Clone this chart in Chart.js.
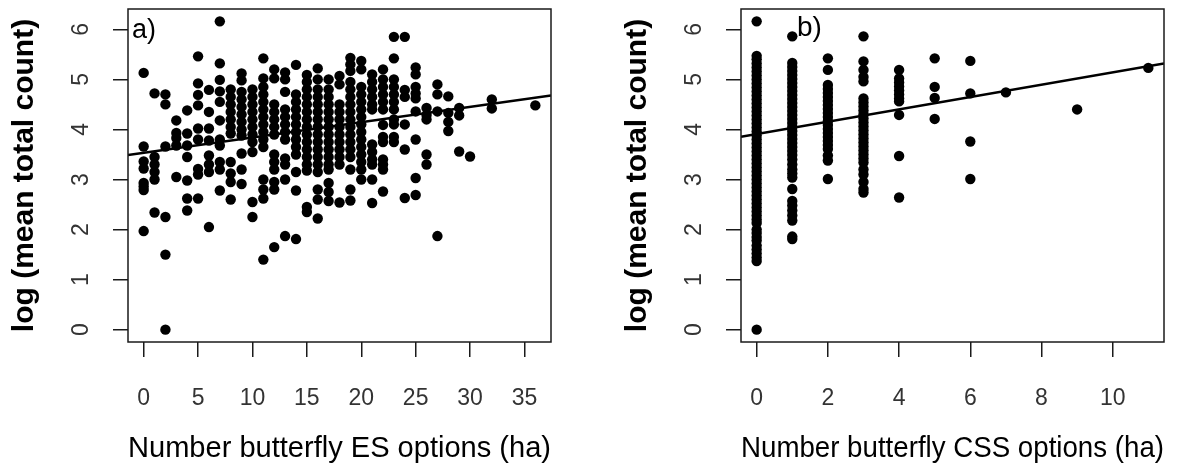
<!DOCTYPE html>
<html>
<head>
<meta charset="utf-8">
<script src="https://cdn.jsdelivr.net/npm/chart.js@4.4.1/dist/chart.umd.min.js"></script>
<style>
  html, body { margin: 0; padding: 0; background: #fff; }
  #wrap { position: relative; width: 1190px; height: 469px; }
  canvas { position: absolute; top: 0; }
  #chartEs { left: 0; }
  #chartCss { left: 595px; }
</style>
</head>
<body>
<div id="wrap">
  <canvas id="chartEs" width="595" height="469"></canvas>
  <canvas id="chartCss" width="595" height="469"></canvas>
</div>
<script>
// panel a) : number of butterfly ES options, one list of log counts per x value
const esOptions = [0, 1, 2, 3, 4, 5, 6, 7, 8, 9, 10, 11, 12, 13, 14, 15, 16, 17, 18, 19, 20,
                   21, 22, 23, 24, 25, 26, 27, 28, 29, 30, 32, 36];
const esLogCount = [
    [5.13, 3.66, 3.36, 3.22, 2.93, 2.86, 2.79, 1.97],
    [4.72, 3.45, 3.3, 3.15, 3.0, 2.34],
    [4.7, 4.5, 3.66, 2.25, 1.5, 0.0],
    [4.18, 3.93, 3.83, 3.68, 3.05],
    [4.38, 3.92, 3.68, 3.45, 2.98, 2.62, 2.38],
    [5.46, 4.92, 4.69, 4.48, 4.02, 3.8, 3.21, 3.1, 2.62],
    [4.79, 4.35, 4.02, 3.78, 3.48, 3.3, 3.15, 2.05],
    [6.16, 5.32, 4.99, 4.76, 4.55, 4.18, 3.8, 3.68, 3.35, 3.2, 2.78],
    [4.8, 4.65, 4.5, 4.35, 4.2, 4.05, 3.92, 3.35, 3.12, 2.95, 2.6],
    [5.12, 4.98, 4.75, 4.6, 4.45, 4.3, 4.15, 4.0, 3.88, 3.52, 3.2, 2.91],
    [4.8, 4.65, 4.5, 4.35, 4.2, 4.05, 3.9, 3.75, 3.55, 2.55, 2.25],
    [5.42, 5.02, 4.85, 4.7, 4.55, 4.4, 4.25, 4.1, 3.95, 3.8, 3.65, 3.0, 2.8, 2.62, 1.4],
    [5.2, 5.02, 4.5, 4.35, 4.2, 4.05, 3.9, 3.5, 3.35, 3.2, 2.95, 2.8, 1.65],
    [5.14, 5.0, 4.75, 4.4, 4.25, 4.1, 3.95, 3.8, 3.42, 3.3, 3.0, 1.87],
    [5.29, 4.7, 4.55, 4.4, 4.25, 4.1, 3.95, 3.8, 3.65, 3.5, 3.15, 2.78, 1.81],
    [5.09, 4.95, 4.8, 4.65, 4.5, 4.35, 4.2, 4.05, 3.9, 3.75, 3.6, 3.45, 3.3, 3.18, 2.45, 2.35],
    [5.22, 5.0, 4.8, 4.65, 4.5, 4.35, 4.2, 4.05, 3.9, 3.75, 3.6, 3.45, 3.3, 3.15, 2.8, 2.6, 2.22],
    [5.0, 4.8, 4.65, 4.5, 4.35, 4.2, 4.05, 3.9, 3.75, 3.6, 3.45, 3.3, 3.2, 2.93, 2.75, 2.57],
    [5.07, 4.9, 4.5, 4.35, 4.2, 4.05, 3.9, 3.75, 3.6, 3.45, 3.3, 2.54],
    [5.43, 5.3, 5.17, 4.95, 4.8, 4.65, 4.5, 4.35, 4.2, 4.05, 3.9, 3.75, 3.6, 3.45, 3.2, 2.8, 2.58],
    [5.37, 5.2, 4.85, 4.7, 4.55, 4.4, 4.25, 4.1, 3.95, 3.8, 3.65, 3.5, 3.35, 3.2, 3.0],
    [5.1, 4.95, 4.8, 4.65, 4.5, 4.4, 3.7, 3.55, 3.4, 3.3, 3.0, 2.53],
    [5.2, 5.0, 4.85, 4.7, 4.55, 4.4, 4.09, 3.85, 3.75, 3.4, 3.3, 3.2, 2.76],
    [5.85, 5.42, 5.0, 4.85, 4.7, 4.55, 4.4, 4.2, 4.1, 3.85, 3.75],
    [5.85, 4.79, 4.65, 4.1, 3.6, 2.63],
    [5.24, 5.1, 4.85, 4.72, 4.62, 4.36, 3.8, 3.03, 2.69],
    [4.43, 4.29, 4.2, 3.5, 3.3],
    [4.9, 4.7, 4.36, 1.87],
    [4.66, 4.33, 4.15, 3.97],
    [4.43, 4.28, 3.56],
    [3.46],
    [4.6, 4.42],
    [4.48]
];
const esTicks = [0, 5, 10, 15, 20, 25, 30, 35];

// panel b) : number of butterfly CSS options
const cssOptions = [0, 1, 2, 3, 4, 5, 6, 7, 9, 11];
const cssLogCount = [
    [6.16, 5.47, 5.4, 5.32, 5.24, 5.16, 5.08, 5.0, 4.92, 4.84, 4.76, 4.68, 4.6, 4.52, 4.44, 4.36,
     4.28, 4.2, 4.12, 4.04, 3.96, 3.88, 3.8, 3.72, 3.64, 3.56, 3.48, 3.4, 3.32, 3.24, 3.16, 3.08,
     3.0, 2.92, 2.84, 2.76, 2.68, 2.6, 2.52, 2.44, 2.36, 2.28, 2.2, 2.13, 2.0, 1.93, 1.85, 1.78,
     1.68, 1.6, 1.52, 1.44, 1.37, 0.0],
    [5.86, 5.33, 5.25, 5.17, 5.09, 5.01, 4.93, 4.85, 4.77, 4.69, 4.61, 4.53, 4.45, 4.37, 4.29,
     4.21, 4.13, 4.05, 3.97, 3.89, 3.81, 3.73, 3.65, 3.57, 3.49, 3.4, 3.3, 3.2, 3.12, 3.04, 2.81,
     2.57, 2.48, 2.38, 2.28, 2.18, 1.86, 1.81],
    [5.42, 5.19, 4.89, 4.81, 4.73, 4.65, 4.57, 4.49, 4.41, 4.33, 4.25, 4.17, 4.09, 4.01, 3.93,
     3.85, 3.77, 3.69, 3.61, 3.48, 3.38, 3.01],
    [5.86, 5.36, 5.19, 5.05, 4.96, 4.62, 4.54, 4.46, 4.38, 4.3, 4.22, 4.14, 4.06, 3.98, 3.9,
     3.82, 3.74, 3.66, 3.58, 3.5, 3.42, 3.34, 3.2, 3.1, 2.95, 2.81, 2.74],
    [5.19, 5.02, 4.94, 4.86, 4.78, 4.7, 4.62, 4.56, 4.29, 3.47, 2.64],
    [5.42, 4.85, 4.63, 4.21],
    [5.37, 4.72, 3.76, 3.01],
    [4.74],
    [4.4],
    [5.23]
];
const cssTicks = [0, 2, 4, 6, 8, 10];

const yTicks = [0, 1, 2, 3, 4, 5, 6];

// fitted lines (intercept, slope)
const esFit = [3.534, 0.0306];
const cssFit = [3.909, 0.1233];

const FONT = "'Liberation Sans', Arial, sans-serif";

/**
 * Turns the per-column lists into {x, y} points.
 */
function toPoints(xs, ys) {
    const pts = [];
    xs.forEach((x, i) => ys[i].forEach(y => pts.push({ x: x, y: y })));
    return pts;
}

// R style: data range widened by 4% on both sides
function rRange(values) {
    const lo = Math.min(...values), hi = Math.max(...values);
    const d = (hi - lo) * 0.04;
    return [lo - d, hi + d];
}

const framePlugin = {
    id: 'frame',
    afterDraw(chart, args, opts) {
        const { ctx, chartArea: a } = chart;
        ctx.save();
        ctx.strokeStyle = '#1a1a1a';
        ctx.lineWidth = 1.5;
        ctx.strokeRect(a.left, a.top, a.right - a.left, a.bottom - a.top);
        ctx.fillStyle = '#000';
        ctx.font = `${opts.size}px ${FONT}`;
        ctx.textBaseline = 'alphabetic';
        ctx.fillText(opts.label, a.left + opts.dx, a.top + opts.dy);
        ctx.restore();
    }
};

function makePanel(id, cfg) {
    const xr = rRange(cfg.xs);
    const yr = rRange(cfg.ys.flat());
    const fit = xr.map(x => ({ x: x, y: cfg.fit[0] + cfg.fit[1] * x }));

    return new Chart(document.getElementById(id), {
        type: 'scatter',
        data: {
            datasets: [
                {
                    data: toPoints(cfg.xs, cfg.ys),
                    backgroundColor: '#000',
                    borderWidth: 0,
                    pointRadius: 5.2,
                    pointHoverRadius: 5.2
                },
                {
                    type: 'line',
                    data: fit,
                    borderColor: '#000',
                    borderWidth: 2.5,
                    pointRadius: 0,
                    fill: false
                }
            ]
        },
        options: {
            responsive: false,
            animation: false,
            events: [],
            layout: { padding: { left: cfg.padLeft, right: cfg.padRight, top: 9, bottom: 0 } },
            plugins: {
                legend: { display: false },
                tooltip: { enabled: false },
                frame: cfg.tag
            },
            scales: {
                x: {
                    type: 'linear',
                    min: xr[0],
                    max: xr[1],
                    afterFit: s => { s.height = 127; s.paddingLeft = 0; s.paddingRight = 0; },
                    afterBuildTicks: s => { s.ticks = cfg.xTicks.map(v => ({ value: v })); },
                    grid: { drawOnChartArea: false, tickLength: 15, color: '#1a1a1a', lineWidth: 1.5 },
                    border: { display: false },
                    ticks: { autoSkip: false, maxRotation: 0, padding: 28, color: '#333',
                             font: { family: FONT, size: 23 } },
                    title: { display: true, text: cfg.xTitle, color: '#000',
                             font: { family: FONT, size: 30 }, padding: { top: 0, bottom: 2 } }
                },
                y: {
                    type: 'linear',
                    min: yr[0],
                    max: yr[1],
                    afterFit: s => { s.width = 128; s.paddingTop = 0; s.paddingBottom = 0; },
                    afterBuildTicks: s => { s.ticks = yTicks.map(v => ({ value: v })); },
                    grid: { drawOnChartArea: false, tickLength: 15, color: '#1a1a1a', lineWidth: 1.5 },
                    border: { display: false },
                    ticks: { autoSkip: false, minRotation: 90, maxRotation: 90, crossAlign: 'center',
                             padding: 25, color: '#333', font: { family: FONT, size: 23 } },
                    title: { display: true, text: 'log (mean total count)', color: '#000',
                             font: { family: FONT, size: 30, weight: 'bold' }, padding: { top: 7, bottom: 0 } }
                }
            }
        },
        plugins: [framePlugin]
    });
}

makePanel('chartEs', {
    xs: esOptions, ys: esLogCount, xTicks: esTicks, fit: esFit,
    xTitle: 'Number butterfly ES options (ha)',
    padLeft: 0, padRight: 44,
    tag: { label: 'a)', size: 27, dx: 4, dy: 28.5 }
});

makePanel('chartCss', {
    xs: cssOptions, ys: cssLogCount, xTicks: cssTicks, fit: cssFit,
    xTitle: 'Number butterfly CSS options (ha)',
    padLeft: 18, padRight: 26,
    tag: { label: 'b)', size: 28, dx: 56, dy: 26.7 }
});
</script>
</body>
</html>
